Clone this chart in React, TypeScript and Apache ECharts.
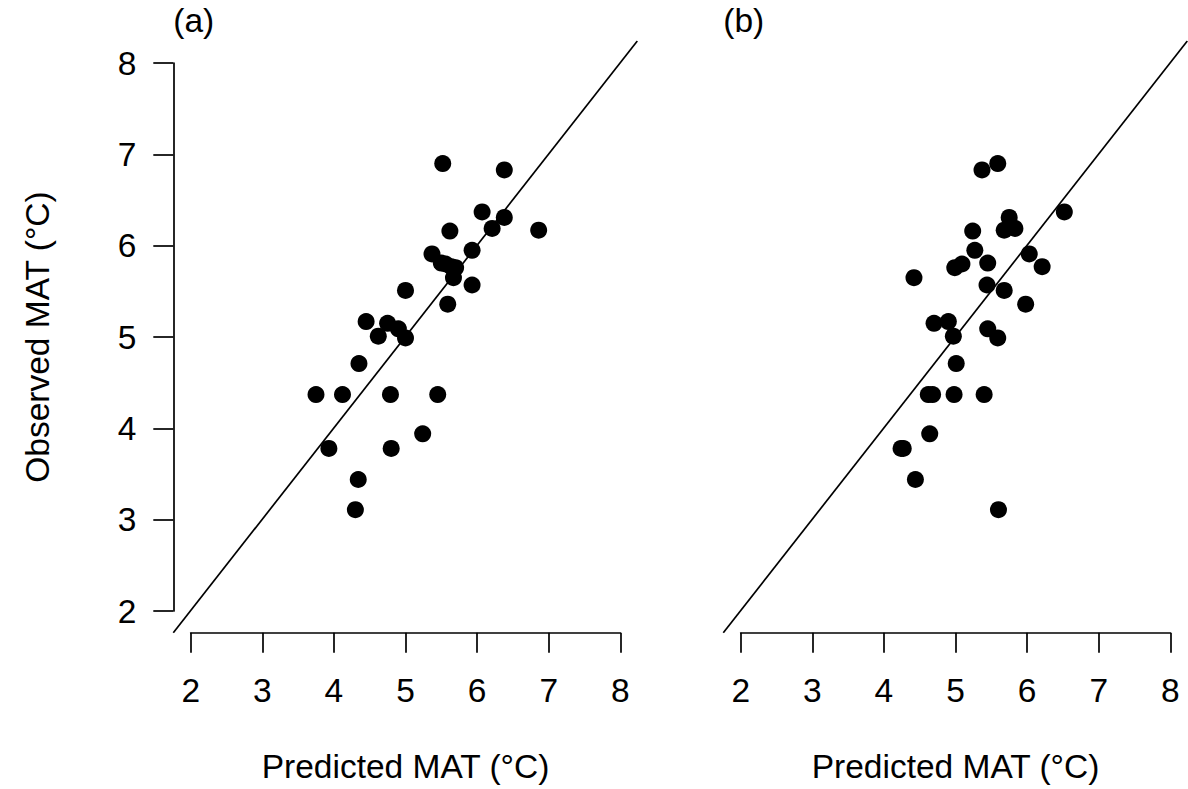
import React, { useEffect, useRef } from "react";
import * as echarts from "echarts";

// Observed mean annual temperature (°C), shared by both panels
const observed = [6.90, 6.83, 6.37, 6.31, 6.19, 6.17, 6.16, 5.95, 5.91, 5.81, 5.80, 5.77, 5.76, 5.65, 5.57, 5.51, 5.36, 5.17, 5.15, 5.09, 5.01, 4.99, 4.71, 4.37, 4.37, 4.37, 4.37, 3.94, 3.78, 3.78, 3.44, 3.11];
// Predicted MAT, panel (a)
const predictedA = [5.52, 6.38, 6.07, 6.38, 6.21, 6.86, 5.62, 5.93, 5.37, 5.50, 5.56, 5.64, 5.70, 5.67, 5.93, 5.00, 5.59, 4.45, 4.75, 4.90, 4.62, 5.00, 4.35, 3.75, 4.12, 4.79, 5.45, 5.24, 3.93, 4.80, 4.34, 4.30];
// Predicted MAT, panel (b)
const predictedB = [5.59, 5.37, 6.52, 5.75, 5.83, 5.68, 5.24, 5.27, 6.03, 5.45, 5.09, 6.21, 4.99, 4.42, 5.44, 5.68, 5.98, 4.90, 4.70, 5.45, 4.97, 5.59, 5.01, 4.62, 4.68, 4.98, 5.40, 4.64, 4.24, 4.27, 4.44, 5.60];
// Axis ticks and plot range (1:1 line extent)
const ticks = [2, 3, 4, 5, 6, 7, 8];
const plotRange = [1.76, 8.24];
const panelLabels = ["(a)", "(b)"];
const xTitle = "Predicted MAT (°C)";
const yTitle = "Observed MAT (°C)";

const FONT = "Liberation Sans";
const FS = 33.5;

export default function App() {
  const ref = useRef<HTMLDivElement>(null);
  useEffect(() => {
    document.body.style.margin = "0";
    if (!ref.current) return;
    const chart = echarts.init(ref.current, null, { renderer: "svg" });
    const tmin = ticks[0];
    const tmax = ticks[ticks.length - 1];
    const gridTop = 63.1;
    const gridH = 547.9;
    const gridW = 429.6;
    const lefts = [190.7, 740.7];
    // full plot regions (4% extension) for the 1:1 lines
    const plotLefts = [173.3, 723.3];
    const plotTop = 41;
    const plotW = 464;
    const plotH = 591.7;
    const axisColor = "#000";
    const lw = 1.7;
    const toPairs = (xs: number[]) => xs.map((x, i) => [x, observed[i]]);

    const xAxes: any[] = lefts.map((_, i) => ({
      type: "value",
      gridIndex: i,
      min: tmin,
      max: tmax,
      interval: 1,
      position: "bottom",
      offset: 21.7,
      name: xTitle,
      nameLocation: "middle",
      nameGap: 134,
      nameTextStyle: { fontFamily: FONT, fontSize: FS, color: "#000", verticalAlign: "middle" },
      axisLine: { show: true, onZero: false, lineStyle: { color: axisColor, width: lw } },
      axisTick: { show: true, length: 20, inside: false, lineStyle: { color: axisColor, width: lw } },
      axisLabel: { fontFamily: FONT, fontSize: FS, color: "#000", margin: 41 },
      splitLine: { show: false },
    }));

    const yAxes: any[] = lefts.map((_, i) => ({
      type: "value",
      gridIndex: i,
      min: tmin,
      max: tmax,
      interval: 1,
      show: i === 0,
      position: "left",
      offset: 17.4,
      name: i === 0 ? yTitle : "",
      nameLocation: "middle",
      nameGap: 136,
      nameRotate: 90,
      nameTextStyle: { fontFamily: FONT, fontSize: FS, color: "#000", verticalAlign: "middle" },
      axisLine: { show: true, onZero: false, lineStyle: { color: axisColor, width: lw } },
      axisTick: { show: true, length: 20, inside: false, lineStyle: { color: axisColor, width: lw } },
      axisLabel: { fontFamily: FONT, fontSize: FS, color: "#000", margin: 37 },
      splitLine: { show: false },
    }));

    // hidden axes spanning the full plot regions
    plotLefts.forEach((_, i) => {
      xAxes.push({ type: "value", gridIndex: 2 + i, min: plotRange[0], max: plotRange[1], show: false, splitLine: { show: false } });
      yAxes.push({ type: "value", gridIndex: 2 + i, min: plotRange[0], max: plotRange[1], show: false, splitLine: { show: false } });
    });

    const series: any[] = [];
    [predictedA, predictedB].forEach((pred, i) => {
      series.push({
        type: "line",
        xAxisIndex: 2 + i,
        yAxisIndex: 2 + i,
        data: [[plotRange[0], plotRange[0]], [plotRange[1], plotRange[1]]],
        showSymbol: false,
        symbol: "none",
        lineStyle: { color: "#000", width: lw },
        silent: true,
        z: 3,
      });
      series.push({
        type: "scatter",
        xAxisIndex: i,
        yAxisIndex: i,
        data: toPairs(pred),
        symbol: "circle",
        symbolSize: 17,
        itemStyle: { color: "#000", opacity: 1 },
        clip: false,
        z: 2,
      });
    });

    const grids: any[] = lefts.map((l) => ({ left: l, top: gridTop, width: gridW, height: gridH, containLabel: false }));
    plotLefts.forEach((l) => grids.push({ left: l, top: plotTop, width: plotW, height: plotH, containLabel: false }));

    chart.setOption({
      animation: false,
      backgroundColor: "#fff",
      grid: grids,
      xAxis: xAxes,
      yAxis: yAxes,
      series,
      graphic: panelLabels.map((t, i) => ({
        type: "text",
        left: plotLefts[i],
        top: 3,
        style: { text: t, fontFamily: FONT, fontSize: FS, fill: "#000" },
      })),
    });
    return () => chart.dispose();
  }, []);
  return <div ref={ref} style={{ width: 1188, height: 789 }} />;
}
